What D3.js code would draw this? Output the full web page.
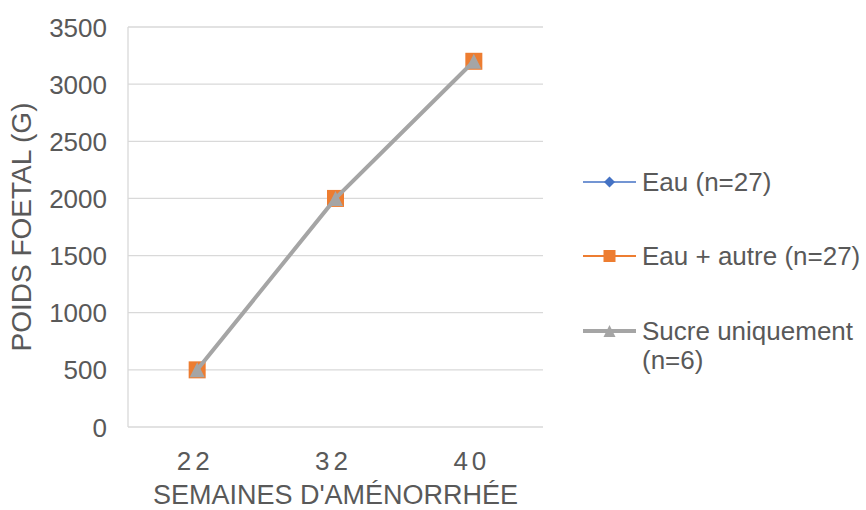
<!DOCTYPE html>
<html><head><meta charset="utf-8">
<script src="https://cdn.jsdelivr.net/npm/d3@7"></script>
<style>body{margin:0;background:#fff}svg text{font-family:"Liberation Sans",Arial,sans-serif}</style>
</head><body><svg id="c" width="866" height="510"></svg>
<script>
const categories = ["22","32","40"];
const seriesNames = ["Eau (n=27)","Eau + autre (n=27)","Sucre uniquement (n=6)"];
const eau = [500,2000,3200];
const eauAutre = [500,2000,3200];
const sucre = [500,2000,3200];
const yTicks = [0,500,1000,1500,2000,2500,3000,3500];

const series = [
  {name: seriesNames[0], values: eau, color:"#4472C4", width:1.5, marker:"diamond"},
  {name: seriesNames[1], values: eauAutre, color:"#ED7D31", width:2, marker:"square"},
  {name: seriesNames[2], values: sucre, color:"#A5A5A5", width:4, marker:"triangle"}
];

const svg = d3.select("#c");
const L=128, R=543, T=27, B=427;
const x = d3.scaleBand().domain(categories).range([L,R]);
const y = d3.scaleLinear().domain([0,3500]).range([B,T]);
const txt = "#595959";

svg.append("g").selectAll("line").data(yTicks).join("line")
  .attr("x1",L).attr("x2",R).attr("y1",d=>y(d)).attr("y2",d=>y(d))
  .attr("stroke","#D9D9D9").attr("stroke-width",1.3);
svg.append("line").attr("x1",L).attr("x2",L).attr("y1",T).attr("y2",B).attr("stroke","#D9D9D9").attr("stroke-width",1.3);

const yAxis = d3.axisLeft(y).tickValues(yTicks).tickFormat(d3.format("d")).tickSize(0).tickPadding(21);
const gy = svg.append("g").attr("transform",`translate(${L},0)`).call(yAxis);
gy.select(".domain").remove();
gy.attr("font-family",null).attr("font-size",null);
gy.selectAll("text").attr("font-size",26).attr("fill",txt).attr("dy","0.35em");

const xAxis = d3.axisBottom(x).tickSize(0).tickPadding(0);
const gx = svg.append("g").attr("transform",`translate(0,${B})`).call(xAxis);
gx.select(".domain").remove();
gx.attr("font-family",null).attr("font-size",null);
gx.selectAll("text").attr("font-size",26).attr("fill",txt).attr("letter-spacing","4px")
  .attr("y",43).attr("dy",null).attr("dx","-2px");

svg.append("text").attr("x",(L+R)/2).attr("y",504).attr("text-anchor","middle")
  .attr("font-size",27).attr("fill",txt).text("SEMAINES D'AMÉNORRHÉE");
svg.append("text").attr("transform",`translate(31,${(T+B)/2}) rotate(-90)`).attr("text-anchor","middle")
  .attr("font-size",28).attr("fill",txt).text("POIDS FOETAL (G)");

function marker(g, type, cx, cy, s, color){
  if(type==="diamond"){
    g.append("path").attr("d",`M${cx},${cy-s/2}L${cx+s/2},${cy}L${cx},${cy+s/2}L${cx-s/2},${cy}Z`).attr("fill",color);
  } else if(type==="square"){
    g.append("rect").attr("x",cx-s/2).attr("y",cy-s/2).attr("width",s).attr("height",s).attr("fill",color);
  } else {
    g.append("path").attr("d",`M${cx},${cy-s/2}L${cx+s/2},${cy+s/2}L${cx-s/2},${cy+s/2}Z`).attr("fill",color);
  }
}

const line = d3.line().x((d,i)=>x(categories[i])+x.bandwidth()/2).y(d=>y(d));
const sizes = {diamond:14, square:17, triangle:15};
series.forEach(s=>{
  const g = svg.append("g");
  g.append("path").attr("d",line(s.values)).attr("fill","none").attr("stroke",s.color).attr("stroke-width",s.width);
  s.values.forEach((v,i)=>marker(g,s.marker,x(categories[i])+x.bandwidth()/2,y(v),sizes[s.marker],s.color));
});

const legY = [182,256,331];
const legSizes = {diamond:11, square:12, triangle:12};
series.forEach((s,i)=>{
  const g = svg.append("g");
  g.append("line").attr("x1",583).attr("x2",636).attr("y1",legY[i]).attr("y2",legY[i]).attr("stroke",s.color).attr("stroke-width",s.width);
  marker(g,s.marker,609.5,legY[i],legSizes[s.marker],s.color);
  const t = g.append("text").attr("x",642).attr("y",legY[i]+9).attr("font-size",26).attr("fill",txt);
  if(i===2){
    t.append("tspan").attr("x",642).text("Sucre uniquement");
    t.append("tspan").attr("x",642).attr("dy",28.5).text("(n=6)");
  } else t.text(s.name);
});
</script></body></html>
